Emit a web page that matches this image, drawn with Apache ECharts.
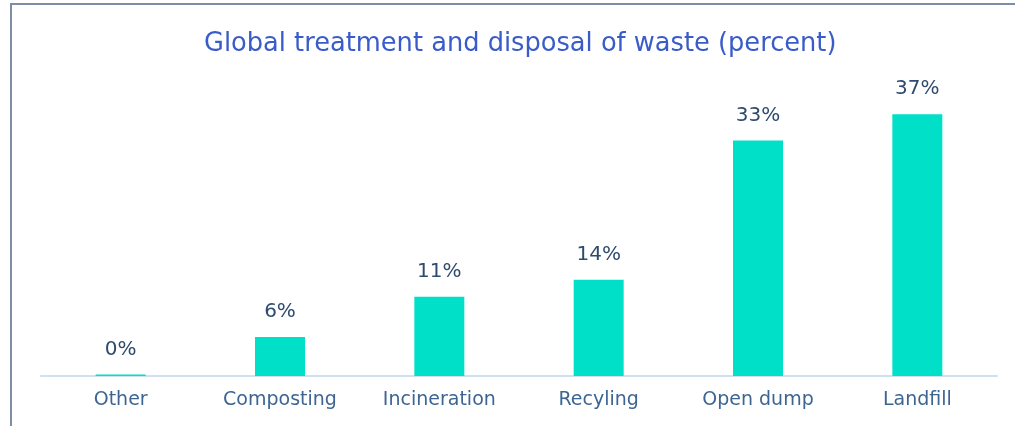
<!DOCTYPE html>
<html>
<head>
<meta charset="utf-8">
<script src="https://cdn.jsdelivr.net/npm/echarts@6/dist/echarts.min.js"></script>
<style>
  html, body { margin: 0; padding: 0; background: #fff; }
  #chart { width: 1015px; height: 426px; }
</style>
</head>
<body>
<div id="chart"></div>
<script>
// waste treatment shares
const categories = ['Other', 'Composting', 'Incineration', 'Recyling', 'Open dump', 'Landfill']
const shares = [0.2, 5.5, 11.2, 13.6, 33.3, 37]
const titleText = 'Global treatment and disposal of waste (percent)'

const FONT = 'DejaVu Sans'

const chart = echarts.init(document.getElementById('chart'))

chart.setOption({
  backgroundColor: '#ffffff',
  animation: false,
  title: {
    text: titleText,
    left: 199,
    top: 26,
    textStyle: {
      fontFamily: FONT,
      fontSize: 25.7,
      fontWeight: 'normal',
      color: '#3a5cc8',
    },
  },
  graphic: [{
    type: 'rect',
    shape: { x: 11, y: 4, width: 1200, height: 600 },
    style: { fill: 'none', stroke: '#7d8da5', lineWidth: 2 },
    silent: true,
  }],
  grid: { left: 41, right: 18, top: 93, bottom: 50, containLabel: false },
  xAxis: {
    type: 'category',
    data: categories,
    axisLine: { lineStyle: { color: '#cfe0f1', width: 2 } },
    axisTick: { show: false },
    axisLabel: {
      margin: 15,
      fontFamily: FONT,
      fontSize: 19,
      color: '#3d6592',
    },
  },
  yAxis: {
    type: 'value',
    min: 0,
    max: 40,
    show: false,
  },
  series: [{
    type: 'bar',
    data: shares,
    barWidth: 50,
    itemStyle: { color: '#00e0c9' },
    label: {
      show: true,
      position: 'top',
      distance: 15,
      fontFamily: FONT,
      fontSize: 20,
      color: '#2e4b6e',
      formatter: p => Math.round(p.value) + '%',
    },
  }],
})
</script>
</body>
</html>
